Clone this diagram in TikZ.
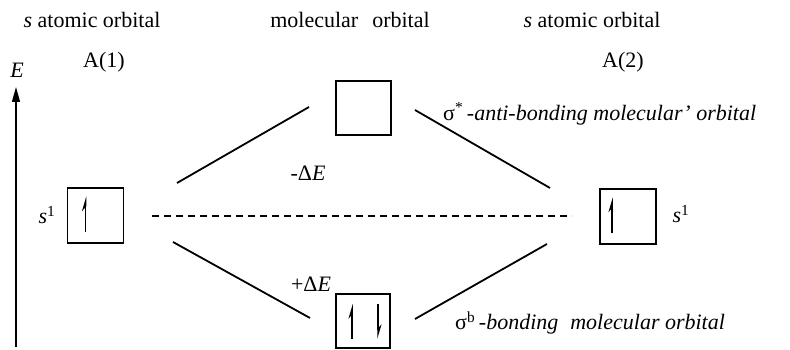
\documentclass[tikz,border=0pt]{standalone}
\usepackage{fontspec}
\setmainfont{Liberation Serif}
\usetikzlibrary{arrows.meta}
\begin{document}
\begin{tikzpicture}[x=1pt,y=1pt,
  orb/.style={draw, line width=1.6pt, minimum width=56pt, minimum height=55pt, inner sep=0pt},
  conn/.style={line width=1.8pt},
  lbl/.style={font=\fontsize{22}{26}\selectfont, inner sep=0pt},
  spin/.style={line width=1.5pt, -{Stealth[harpoon, length=12pt, width=7pt]}},
  levelline/.style={line width=1.2pt, dash pattern=on 7pt off 5pt},
  axisline/.style={line width=1.4pt, -{Triangle[length=15pt, width=8pt]}}
]
\useasboundingbox (0,0) rectangle (790,350);
% titles
\node[lbl] (t1) at (92,330) {\textit{s} atomic orbital};
\node[lbl] (t2) at (350,330) {molecular\hspace{14pt}orbital};
\node[lbl] (t3) at (592,330) {\textit{s} atomic orbital};
\node[lbl] (a1lab) at (104,288) {A(1)};
\node[lbl] (a2lab) at (623,288) {A(2)};
% axis
\coordinate (ax0) at (16,3);
\coordinate (ax1) at (16,263);
\draw[axisline] (ax0) -- (ax1);
\node[lbl] (elab) at (17,280) {\textit{E}};
% orbital boxes
\node[orb] (A1) at (95.5,134.5) {};
\node[orb] (A2) at (628,133.5) {};
\node[orb, minimum height=54pt, minimum width=55pt] (MOa) at (363.5,242) {};
\node[orb, minimum height=54pt, minimum width=54pt] (MOb) at (363,29) {};
% electrons
\draw[spin] ([xshift=-10pt,yshift=-17pt]A1.center) -- ([xshift=-10pt,yshift=19pt]A1.center);
\draw[spin] ([xshift=-16pt,yshift=-17pt]A2.center) -- ([xshift=-16pt,yshift=19pt]A2.center);
\draw[spin] ([xshift=-11pt,yshift=-18pt]MOb.center) -- ([xshift=-11pt,yshift=17pt]MOb.center);
\draw[spin] ([xshift=15pt,yshift=17pt]MOb.center) -- ([xshift=15pt,yshift=-18pt]MOb.center);
% s^1 labels
\node[lbl] (s1l) at (47,135) {\textit{s}\textsuperscript{1}};
\node[lbl] (s1r) at (681,136) {\textit{s}\textsuperscript{1}};
% connector lines
\coordinate (tl0) at (177,167);
\coordinate (tl1) at (309,243);
\coordinate (tr0) at (415,240);
\coordinate (tr1) at (550,162);
\coordinate (bl0) at (173,108);
\coordinate (bl1) at (310,32);
\coordinate (br0) at (415,31);
\coordinate (br1) at (547,106);
\draw[conn] (tl0) -- (tl1);
\draw[conn] (tr0) -- (tr1);
\draw[conn] (bl0) -- (bl1);
\draw[conn] (br0) -- (br1);
% dashed level
\coordinate (d0) at (152,134);
\coordinate (d1) at (572,134);
\draw[levelline] (d0) -- (d1);
% energy labels
\node[lbl] (dEm) at (308,177) {-Δ\textit{E}};
\node[lbl] (dEp) at (311,66) {+Δ\textit{E}};
% MO labels
\node[lbl, anchor=west] (sigs) at (443,236) {σ\textsuperscript{*}\,\textit{-anti-bonding molecular' orbital}};
\node[lbl, anchor=west] (sigb) at (455,27) {σ\textsuperscript{b}\,\textit{-bonding\hspace{12pt}molecular orbital}};
\end{tikzpicture}
\end{document}
